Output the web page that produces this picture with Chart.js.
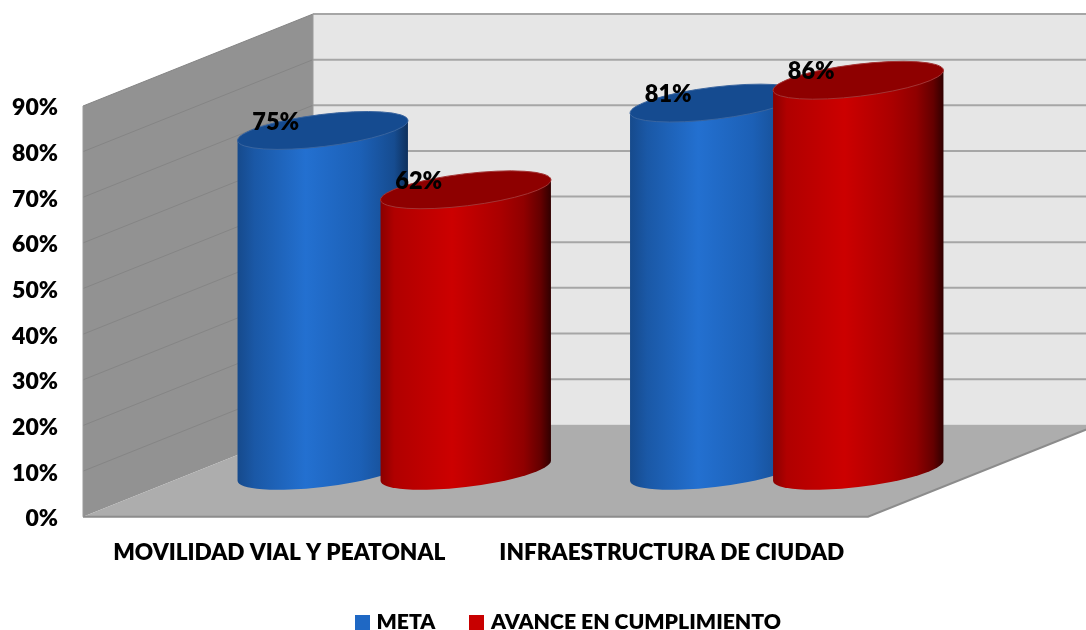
<!DOCTYPE html>
<html lang="es">
<head>
    <meta charset="UTF-8">
    <title>Meta y avance en cumplimiento</title>
    <style>
        body { margin: 0; background: #fff; }
        canvas { display: block; }
    </style>
</head>
<body>
    <canvas id="plot" width="1086" height="630"></canvas>
    <script src="https://cdn.jsdelivr.net/npm/chart.js"></script>
    <script>
        const categories = ['MOVILIDAD VIAL Y PEATONAL', 'INFRAESTRUCTURA DE CIUDAD'];
        const metaValues = [0.75, 0.81];
        const avanceValues = [0.62, 0.86];
        const seriesNames = ['META', 'AVANCE EN CUMPLIMIENTO'];

        const FONT = 'Lato, sans-serif';
        // depth of the fake 3D box, back wall relative to the front plane
        const DEPTH_X = 230;
        const DEPTH_Y = 92;

        const bodyStops = [
            [[0, '#164a8c'], [0.1, '#1a58a6'], [0.4, '#2370d0'], [0.72, '#1c60b6'], [0.92, '#164c90'], [1, '#0e305c']],
            [[0, '#8a0000'], [0.08, '#b00000'], [0.42, '#cc0000'], [0.7, '#aa0000'], [0.84, '#900000'], [0.94, '#640000'], [1, '#300000']]
        ];
        const topColors = ['#154b90', '#8e0000'];
        const rimColors = ['#3a659f', '#a33535'];
        const swatchColors = ['#1f68c4', '#c80000'];

        function drawBox(ctx, chart) {
            const { left, right, top, bottom } = chart.chartArea;
            const yScale = chart.scales.y;
            const backLeft = left + DEPTH_X;
            const backRight = right + DEPTH_X;
            const backTop = top - DEPTH_Y;
            const backBottom = bottom - DEPTH_Y;

            // back wall
            ctx.fillStyle = '#e6e6e6';
            ctx.fillRect(backLeft, backTop, backRight - backLeft, backBottom - backTop);

            // side wall
            ctx.fillStyle = '#929292';
            ctx.beginPath();
            ctx.moveTo(left, top);
            ctx.lineTo(backLeft, backTop);
            ctx.lineTo(backLeft, backBottom);
            ctx.lineTo(left, bottom);
            ctx.closePath();
            ctx.fill();

            // floor
            ctx.fillStyle = '#adadad';
            ctx.beginPath();
            ctx.moveTo(left, bottom);
            ctx.lineTo(right, bottom);
            ctx.lineTo(backRight, backBottom);
            ctx.lineTo(backLeft, backBottom);
            ctx.closePath();
            ctx.fill();

            // grid lines, wall then back
            yScale.ticks.forEach(tick => {
                const y = yScale.getPixelForValue(tick.value);
                if (tick.value > 0) {
                    ctx.strokeStyle = '#858585';
                    ctx.lineWidth = 1;
                    ctx.beginPath();
                    ctx.moveTo(left, y);
                    ctx.lineTo(backLeft, y - DEPTH_Y);
                    ctx.stroke();
                    ctx.strokeStyle = '#a6a6a6';
                    ctx.lineWidth = 2;
                    ctx.beginPath();
                    ctx.moveTo(backLeft, y - DEPTH_Y);
                    ctx.lineTo(backRight, y - DEPTH_Y);
                    ctx.stroke();
                }
            });

            // edges
            ctx.strokeStyle = '#8c8c8c';
            ctx.lineWidth = 2;
            ctx.beginPath();
            ctx.moveTo(left, bottom);
            ctx.lineTo(right, bottom);
            ctx.lineTo(backRight, backBottom);
            ctx.stroke();
            ctx.lineWidth = 1;
            ctx.strokeStyle = '#9a9a9a';
            ctx.beginPath();
            ctx.moveTo(left, top);
            ctx.lineTo(left, bottom);
            ctx.moveTo(backLeft, backTop);
            ctx.lineTo(backLeft, backBottom);
            ctx.stroke();
        }

        function drawCylinder(ctx, bar, series) {
            // bars stand halfway into the box
            const cx = bar.x + DEPTH_X / 2;
            const topY = bar.y - DEPTH_Y / 2 + 2;
            const baseY = bar.base - DEPTH_Y / 2;
            const a = bar.width * 0.6;
            const b = bar.width * 0.112;
            const rot = -6.9 * Math.PI / 180;
            const t = Math.atan2(-b * Math.sin(rot), a * Math.cos(rot));
            const ex = a * Math.cos(t) * Math.cos(rot) - b * Math.sin(t) * Math.sin(rot);
            const ey = a * Math.cos(t) * Math.sin(rot) + b * Math.sin(t) * Math.cos(rot);

            const fill = ctx.createLinearGradient(cx - ex, 0, cx + ex, 0);
            bodyStops[series].forEach(s => fill.addColorStop(s[0], s[1]));
            ctx.fillStyle = fill;
            ctx.beginPath();
            ctx.moveTo(cx - ex, topY - ey);
            ctx.lineTo(cx + ex, topY + ey);
            ctx.lineTo(cx + ex, baseY + ey);
            ctx.ellipse(cx, baseY, a, b, rot, t, Math.PI + t);
            ctx.closePath();
            ctx.fill();

            ctx.fillStyle = topColors[series];
            ctx.strokeStyle = rimColors[series];
            ctx.lineWidth = 1;
            ctx.beginPath();
            ctx.ellipse(cx, topY, a, b, rot, 0, Math.PI * 2);
            ctx.fill();
            ctx.stroke();
        }

        // legend square as an image, so the label can sit closer than Chart.js would put it
        function makeSwatch(color) {
            const c = document.createElement('canvas');
            c.width = 15;
            c.height = 15;
            const g = c.getContext('2d');
            g.fillStyle = color;
            g.fillRect(0, 0, 15, 15);
            return c;
        }
        const swatches = swatchColors.map(makeSwatch);

        const boxPlugin = {
            id: 'box3d',
            afterLayout(chart) {
                // legend sits off-centre in the source picture
                chart.legend.left = 0;
                chart.legend.right = 1140;
                chart.legend.top = 574;
                // Lato sits a bit high on its middle baseline
                chart.scales.y.getLabelItems().forEach(item => { item.options.translation[1] += 2; });
            },
            beforeDraw(chart) {
                drawBox(chart.ctx, chart);
            },
            beforeDatasetsDraw(chart) {
                const ctx = chart.ctx;
                categories.forEach((_, i) => {
                    chart.data.datasets.forEach((ds, s) => {
                        drawCylinder(ctx, chart.getDatasetMeta(s).data[i], s);
                    });
                });
                ctx.fillStyle = '#000';
                ctx.font = '800 23.5px ' + FONT;
                ctx.textAlign = 'center';
                ctx.textBaseline = 'middle';
                categories.forEach((_, i) => {
                    chart.data.datasets.forEach((ds, s) => {
                        const bar = chart.getDatasetMeta(s).data[i];
                        const label = Math.round(ds.data[i] * 100) + '%';
                        ctx.fillText(label, bar.x + DEPTH_X / 2 - 47, bar.y - DEPTH_Y / 2 - 6.5);
                    });
                });
                return false; // default flat bars are not wanted
            }
        };

        new Chart(document.getElementById('plot').getContext('2d'), {
            type: 'bar',
            plugins: [boxPlugin],
            data: {
                labels: categories,
                datasets: [
                    { label: seriesNames[0], data: metaValues, backgroundColor: swatchColors[0] },
                    { label: seriesNames[1], data: avanceValues, backgroundColor: swatchColors[1] }
                ]
            },
            options: {
                responsive: false,
                animation: false,
                layout: { padding: { top: 106, right: 218 } },
                datasets: { bar: { categoryPercentage: 0.7287, barPercentage: 1 } },
                plugins: {
                    tooltip: { enabled: false },
                    legend: {
                        position: 'bottom',
                        labels: {
                            usePointStyle: true,
                            pointStyleWidth: 7,
                            padding: 38,
                            color: '#000',
                            font: { family: FONT, weight: '800', size: 21.2 },
                            generateLabels(chart) {
                                const items = Chart.defaults.plugins.legend.labels.generateLabels(chart);
                                items.forEach((item, i) => { item.pointStyle = swatches[i]; });
                                return items;
                            }
                        }
                    }
                },
                scales: {
                    x: {
                        grid: { display: false },
                        border: { display: false },
                        afterFit(scale) { scale.height = 44; },
                        ticks: {
                            autoSkip: false,
                            maxRotation: 0,
                            padding: 14,
                            color: '#000',
                            font: { family: FONT, weight: '800', size: 22.6 }
                        }
                    },
                    y: {
                        min: 0,
                        max: 0.9,
                        grid: { display: false },
                        border: { display: false },
                        afterFit(scale) { scale.width = 83; },
                        ticks: {
                            stepSize: 0.1,
                            padding: 17,
                            color: '#000',
                            font: { family: FONT, weight: '800', size: 23 },
                            callback: v => Math.round(v * 100) + '%'
                        }
                    }
                }
            }
        });
    </script>
</body>
</html>
